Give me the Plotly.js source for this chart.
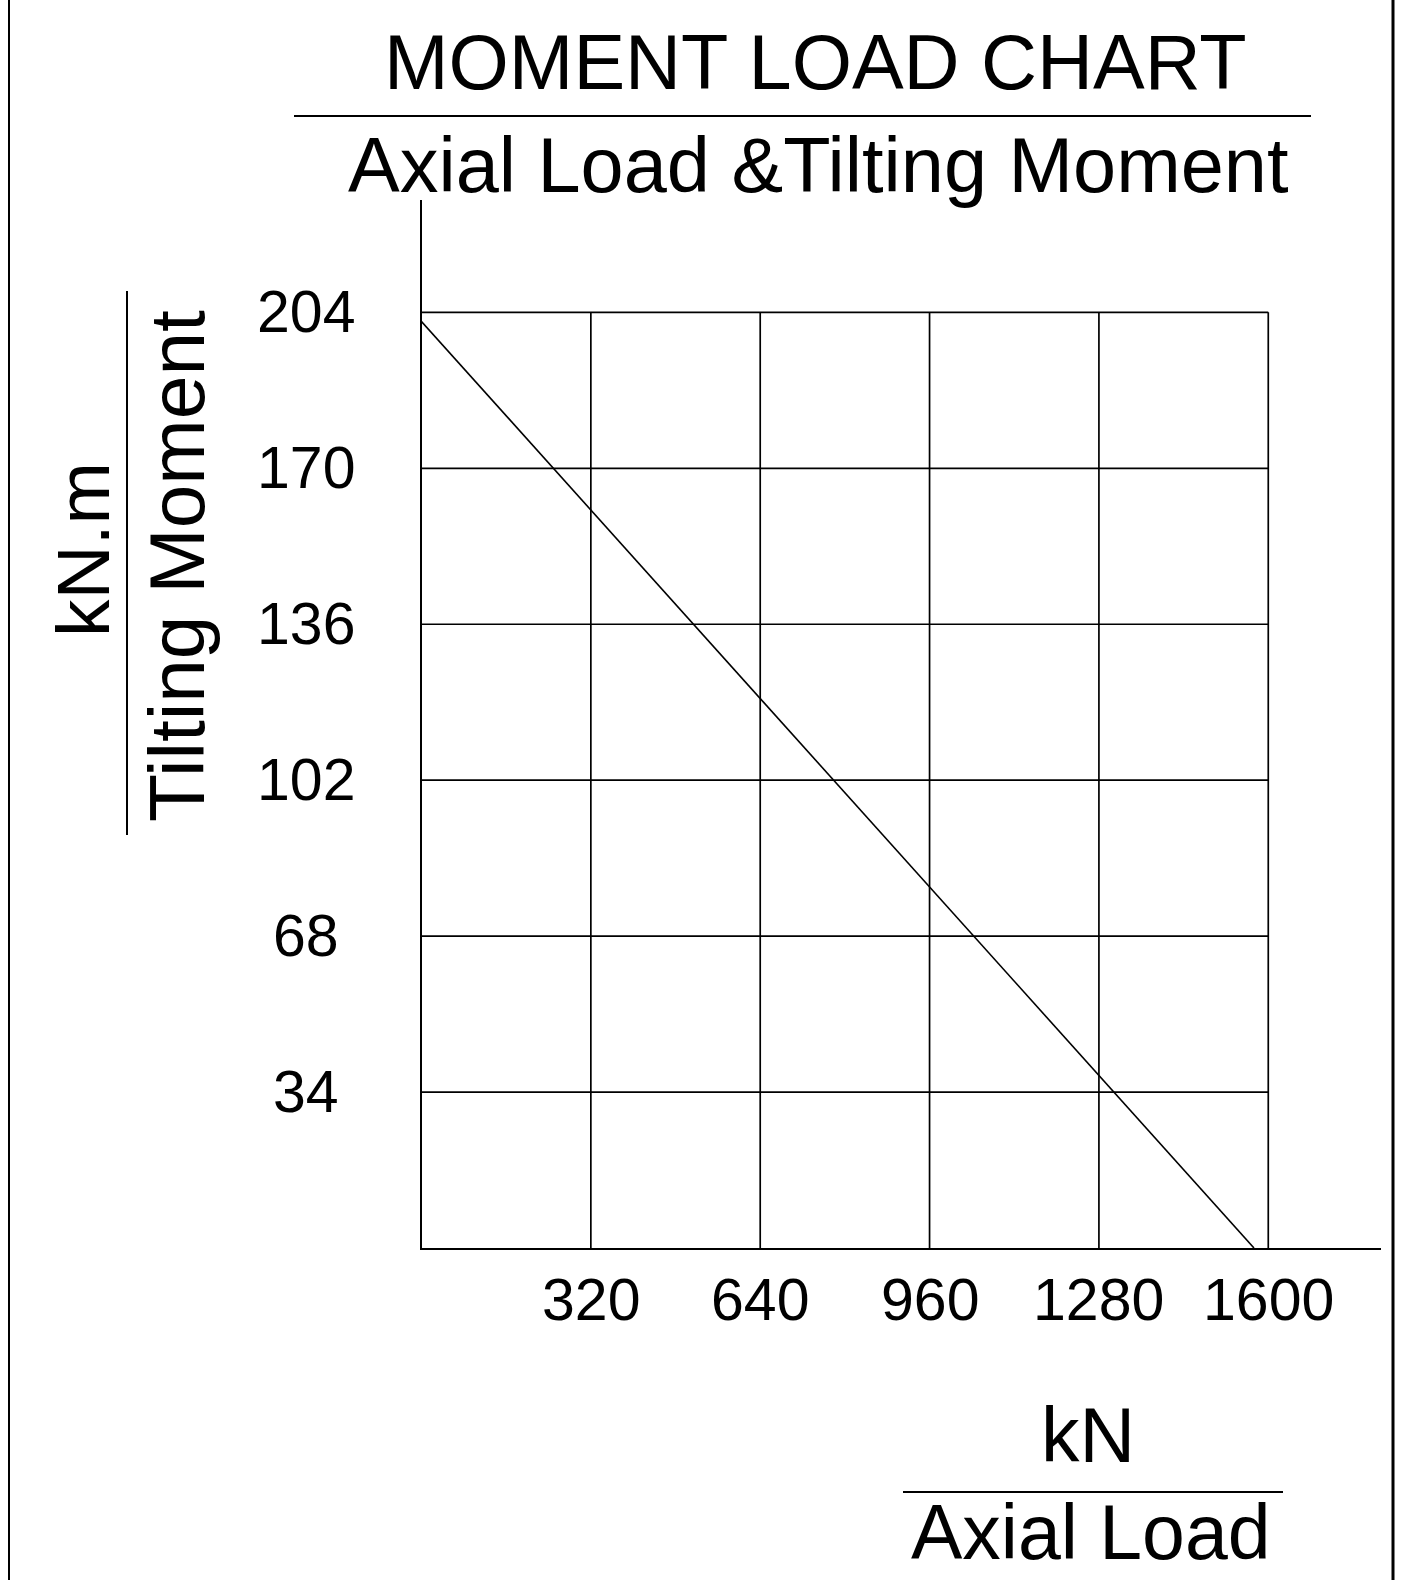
<!DOCTYPE html>
<html>
<head>
<meta charset="utf-8">
<script src="https://cdn.plot.ly/plotly-3.0.1.min.js"></script>
<style>
  html, body { margin: 0; padding: 0; background: #ffffff; }
  #chart { width: 1404px; height: 1580px; }
</style>
</head>
<body>
<div id="chart"></div>
<script>
// ---- data ----
var xTickValues = [320, 640, 960, 1280, 1600];
var xTickLabels = ["320", "640", "960", "1280", "1600"];
var yTickValues = [34, 68, 102, 136, 170, 204];
var yTickLabels = ["34", "68", "102", "136", "170", "204"];
var loadLineX = [0, 1573];     // Axial Load, kN
var loadLineY = [202, 0];      // Tilting Moment, kN.m
var titleText = "MOMENT LOAD CHART";
var subtitleText = "Axial Load &amp;Tilting Moment";
var xUnit = "kN";
var xName = "Axial Load";
var yUnit = "kN.m";
var yName = "Tilting Moment";

// ---- layout helpers ----
var W = 1404, H = 1580;
function px(x) { return x / W; }
function py(y) { return (H - y) / H; }
var FONT = "Liberation Sans, Arial, Helvetica, sans-serif";

var xMax = xTickValues[xTickValues.length - 1];
var yMax = yTickValues[yTickValues.length - 1];

var shapes = [];
// grid: vertical lines
xTickValues.forEach(function (v) {
  shapes.push({type: "line", xref: "x", yref: "y", x0: v, x1: v, y0: 0, y1: yMax,
               line: {color: "#000", width: 1.7}, layer: "below"});
});
// grid: horizontal lines
yTickValues.forEach(function (v) {
  shapes.push({type: "line", xref: "x", yref: "y", x0: 0, x1: xMax, y0: v, y1: v,
               line: {color: "#000", width: 1.7}, layer: "below"});
});
// page borders
shapes.push({type: "line", xref: "paper", yref: "paper", x0: px(9), x1: px(9), y0: 0, y1: 1,
             line: {color: "#000", width: 2}});
shapes.push({type: "line", xref: "paper", yref: "paper", x0: px(1393), x1: px(1393), y0: 0, y1: 1,
             line: {color: "#000", width: 3}});
// fraction bars
shapes.push({type: "line", xref: "paper", yref: "paper", x0: px(294), x1: px(1311), y0: py(116), y1: py(116),
             line: {color: "#000", width: 2}});
shapes.push({type: "line", xref: "paper", yref: "paper", x0: px(903), x1: px(1283), y0: py(1492), y1: py(1492),
             line: {color: "#000", width: 2}});
shapes.push({type: "line", xref: "paper", yref: "paper", x0: px(127), x1: px(127), y0: py(291), y1: py(835),
             line: {color: "#000", width: 2}});

var annotations = [];
function txt(t, x, y, size, extra) {
  var a = {text: t, xref: "paper", yref: "paper", x: x, y: y, showarrow: false,
           xanchor: "center", yanchor: "middle", font: {family: FONT, size: size, color: "#000"}};
  for (var k in extra) a[k] = extra[k];
  annotations.push(a);
}
txt(titleText, px(815), py(62), 77.5);
txt(subtitleText, px(818), py(165), 77.5);
txt(xUnit, px(1088), py(1435), 77);
txt(xName, px(1091), py(1532), 77);
txt(yUnit, px(83), py(550), 75, {textangle: -90});
txt(yName, px(177), py(566), 78.5, {textangle: -90});

// tick labels
xTickValues.forEach(function (v, i) {
  annotations.push({text: xTickLabels[i], xref: "x", yref: "paper", x: v, y: py(1299.5),
                    showarrow: false, xanchor: "center", yanchor: "middle",
                    font: {family: FONT, size: 59, color: "#000"}});
});
yTickValues.forEach(function (v, i) {
  annotations.push({text: yTickLabels[i], xref: "paper", yref: "y", x: px(305.5), y: v,
                    showarrow: false, xanchor: "center", yanchor: "middle",
                    font: {family: FONT, size: 59, color: "#000"}});
});

var traces = [{
  type: "scatter", mode: "lines", x: loadLineX, y: loadLineY,
  line: {color: "#000", width: 1.6}, hoverinfo: "skip", showlegend: false
}];

var layout = {
  width: W, height: H,
  margin: {l: 0, r: 0, t: 0, b: 0, pad: 0},
  paper_bgcolor: "#ffffff", plot_bgcolor: "#ffffff",
  showlegend: false,
  xaxis: {domain: [px(421.5), px(1381)], range: [0, 1813], showgrid: false, zeroline: false,
          showticklabels: false, ticks: "", showline: true, linecolor: "#000", linewidth: 2, fixedrange: true},
  yaxis: {domain: [py(1248), py(200)], range: [0, 228.5], showgrid: false, zeroline: false,
          showticklabels: false, ticks: "", showline: true, linecolor: "#000", linewidth: 2, fixedrange: true},
  shapes: shapes,
  annotations: annotations
};

Plotly.newPlot("chart", traces, layout, {staticPlot: true, displayModeBar: false});
</script>
</body>
</html>
